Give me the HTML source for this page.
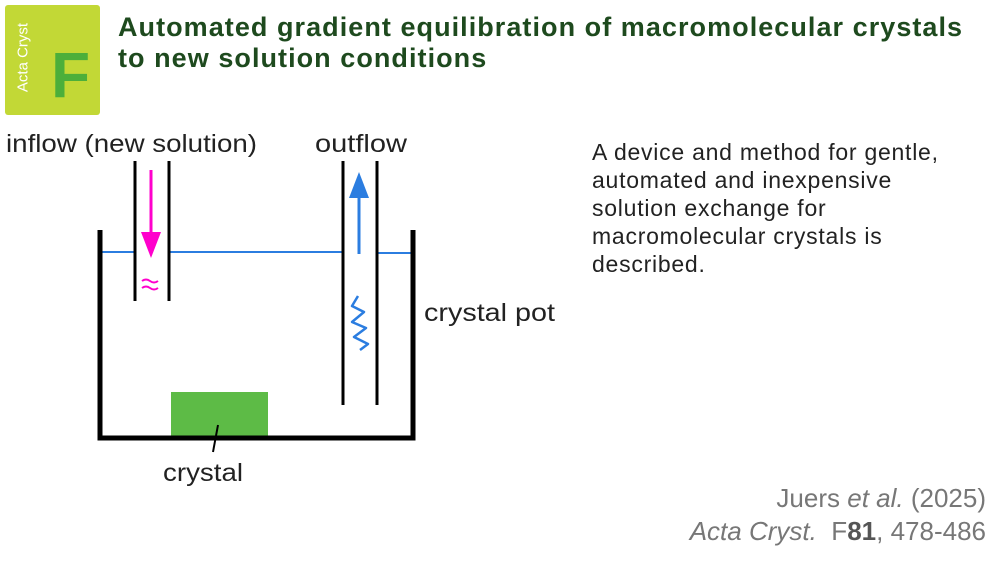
<!DOCTYPE html>
<html><head><meta charset="utf-8"><style>
html,body{margin:0;padding:0;background:#fff;width:1000px;height:562px;overflow:hidden;position:relative;font-family:"Liberation Sans",sans-serif}
.badge{position:absolute;left:5px;top:5px;width:95px;height:110px;background:#c2d836;border-radius:3px}
.badge .v{position:absolute;left:-22px;top:44px;transform:rotate(-90deg);color:#fff;font-size:15px;width:80px;text-align:center}
.badge .F{position:absolute;left:46px;top:38px;color:#4caf3a;font-size:64px;font-weight:bold;line-height:1}
.title{position:absolute;left:118px;top:12px;color:#1e4a1e;font-size:27px;font-weight:bold;line-height:31px;letter-spacing:1.05px}
.desc{position:absolute;left:592px;top:138px;color:#222;font-size:23px;line-height:28px;letter-spacing:0.75px}
.cite{position:absolute;right:14px;top:482px;color:#777;font-size:26px;line-height:33px;text-align:right}
</style></head><body>
<div class="badge"><div class="v">Acta Cryst</div><div class="F">F</div></div>
<div class="title">Automated gradient equilibration of macromolecular crystals<br>to new solution conditions</div>
<svg width="1000" height="562" style="position:absolute;left:0;top:0">
<g font-family="Liberation Sans, sans-serif" font-size="25" fill="#222">
<text x="6" y="152" textLength="251" lengthAdjust="spacingAndGlyphs">inflow (new solution)</text>
<text x="315" y="152" textLength="92" lengthAdjust="spacingAndGlyphs">outflow</text>
<text x="424" y="321" textLength="131" lengthAdjust="spacingAndGlyphs">crystal pot</text>
<text x="163" y="481" textLength="80" lengthAdjust="spacingAndGlyphs">crystal</text>
</g>
<line x1="100" y1="252" x2="135" y2="252" stroke="#2b7de0" stroke-width="2"/>
<line x1="169" y1="252" x2="343" y2="252" stroke="#2b7de0" stroke-width="2"/>
<line x1="377" y1="253" x2="411" y2="253" stroke="#2b7de0" stroke-width="2"/>
<rect x="171" y="392" width="97" height="44" fill="#5dbb46"/>
<path d="M100 230 V438 H413 V230" fill="none" stroke="#000" stroke-width="5" stroke-linejoin="miter"/>
<line x1="218" y1="425" x2="213" y2="452" stroke="#000" stroke-width="2"/>
<g stroke="#000" stroke-width="3">
<line x1="135" y1="161" x2="135" y2="301"/><line x1="169" y1="161" x2="169" y2="301"/>
<line x1="343" y1="161" x2="343" y2="405"/><line x1="377" y1="161" x2="377" y2="405"/>
</g>
<line x1="151" y1="170" x2="151" y2="235" stroke="#ff00cc" stroke-width="3"/>
<polygon points="141,232 161,232 151,258" fill="#ff00cc"/>
<path d="M142 281 q4-3 8 0 t8 0 M142 288 q4-3 8 0 t8 0" stroke="#ff00cc" stroke-width="2" fill="none"/>
<line x1="359" y1="254" x2="359" y2="195" stroke="#2b7de0" stroke-width="3"/>
<polygon points="349,198 369,198 359,172" fill="#2b7de0"/>
<path d="M358 296 L352 306 L364 312 L352 322 L366 328 L354 337 L368 344 L360 350" stroke="#2b7de0" stroke-width="2.5" fill="none" stroke-linejoin="round"/>
</svg>
<div class="desc">A device and method for gentle,<br>automated and inexpensive<br>solution exchange for<br>macromolecular crystals is<br>described.</div>
<div class="cite">Juers <i>et al.</i> (2025)<br><i>Acta Cryst.</i>&nbsp; F<b style="color:#555">81</b>, 478-486</div>
</body></html>
